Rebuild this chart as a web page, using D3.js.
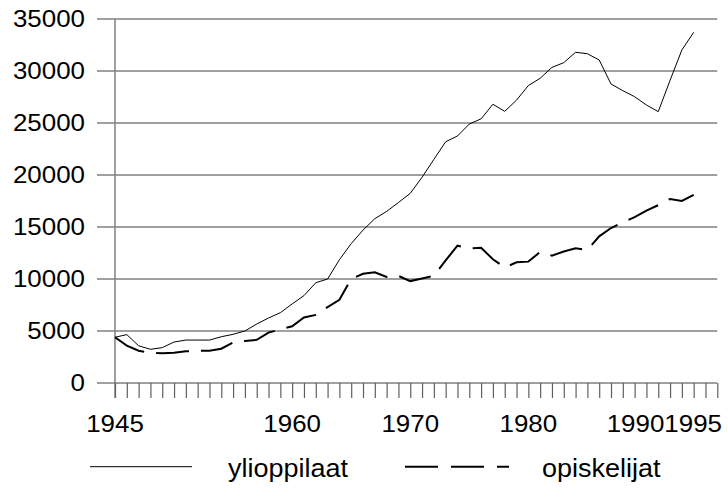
<!DOCTYPE html>
<html><head><meta charset="utf-8">
<script src="https://cdn.jsdelivr.net/npm/d3@7"></script>
<style>
html,body{margin:0;padding:0;background:#fff;}
svg{display:block;}
text{font-family:"Liberation Sans",Arial,sans-serif;fill:#000;}
</style></head>
<body>
<svg id="c" width="728" height="503"></svg>
<script>
const years = [1945,1946,1947,1948,1949,1950,1951,1952,1953,1954,
  1955,1956,1957,1958,1959,1960,1961,1962,1963,1964,
  1965,1966,1967,1968,1969,1970,1971,1972,1973,1974,
  1975,1976,1977,1978,1979,1980,1981,1982,1983,1984,
  1985,1986,1987,1988,1989,1990,1991,1992,1993,1994];
const ylioppilaat = [4400,4650,3580,3240,3400,3940,4130,4130,4130,4450,
  4680,5000,5670,6250,6760,7600,8400,9640,10000,11850,
  13400,14700,15800,16500,17350,18240,19780,21500,23200,23750,
  24900,25400,26800,26120,27200,28600,29300,30350,30800,31800,
  31660,31060,28750,28110,27530,26730,26090,29100,32020,33720];
const opiskelijat = [4400,3600,3100,2900,2850,2900,3050,3100,3100,3300,
  3900,4050,4150,4850,5150,5450,6300,6550,7300,8000,
  10000,10500,10650,10200,10300,9800,10050,10300,11800,13200,
  12950,13000,11900,11100,11600,11670,12600,12250,12650,12950,
  12800,14100,14900,15450,15950,16570,17100,17690,17500,18100];
const axisYears = [1945,1946,1947,1948,1949,1950,1951,1952,1953,1954,
  1955,1956,1957,1958,1959,1960,1961,1962,1963,1964,
  1965,1966,1967,1968,1969,1970,1971,1972,1973,1974,
  1975,1976,1977,1978,1979,1980,1981,1982,1983,1984,
  1985,1986,1987,1988,1989,1990,1991,1992,1993,1994,1995,1996];
const xTickLabels = [1945,1960,1970,1980,1990,1995];
const yTicks = [0,5000,10000,15000,20000,25000,30000,35000];
const seriesNames = ["ylioppilaat","opiskelijat"];

const svg = d3.select("#c");
const SX = 1.08;
const gridColor = "#808080";

const x = d3.scaleLinear().domain([1945,1996]).range([115,717.3]);
const y = d3.scaleLinear().domain([0,35000]).range([383,19]);

// gridlines
svg.append("g").selectAll("line").data(yTicks).join("line")
  .attr("x1",97).attr("x2",717.3)
  .attr("y1",d=>y(d)).attr("y2",d=>y(d))
  .attr("stroke",gridColor).attr("stroke-width",1.5);

// y axis line
svg.append("line").attr("x1",115).attr("x2",115).attr("y1",y(35000)).attr("y2",398)
  .attr("stroke",gridColor).attr("stroke-width",1.5);

// y labels
svg.append("g").selectAll("text").data(yTicks).join("text")
  .attr("text-anchor","end")
  .attr("transform",d=>`translate(85,${y(d)+8.3}) scale(${SX},1)`)
  .style("font-size","24px")
  .text(d=>d);

// x axis ticks via d3 axis
const xAxis = d3.axisBottom(x).tickValues(axisYears).tickSize(15).tickSizeOuter(0).tickFormat("");
const gx = svg.append("g").attr("transform","translate(0,383)").call(xAxis);
gx.select(".domain").remove();
gx.selectAll(".tick line").attr("stroke","#606060").attr("stroke-width",1.2);

// x labels with Excel-like overflow shift
const lbl = svg.append("g").selectAll("text").data(xTickLabels).join("text")
  .attr("text-anchor","middle")
  .style("font-size","24px")
  .text(d=>d);
const widths = [];
lbl.each(function(){ widths.push(this.getComputedTextLength()*SX); });
const pos = xTickLabels.map(d=>x(d));
let limit = 722;
for (let i = pos.length-1; i>=0; i--) {
  pos[i] = Math.min(pos[i], limit - widths[i]/2);
  limit = pos[i] - widths[i]/2;
}
lbl.attr("transform",(d,i)=>`translate(${pos[i]},431.7) scale(${SX},1)`);

// lines
const line = d3.line().x((d,i)=>x(years[i])).y(d=>y(d));
svg.append("path").datum(ylioppilaat).attr("d",line)
  .attr("fill","none").attr("stroke","#000").attr("stroke-width",1);
svg.append("path").datum(opiskelijat).attr("d",line)
  .attr("fill","none").attr("stroke","#000").attr("stroke-width",2)
  .attr("stroke-dasharray","33,12");

// legend
svg.append("line").attr("x1",90).attr("x2",192).attr("y1",466.7).attr("y2",466.7)
  .attr("stroke","#000").attr("stroke-width",1);
svg.append("text").attr("transform",`translate(228,477) scale(${SX},1)`)
  .style("font-size","25px").text(seriesNames[0]);
svg.append("line").attr("x1",405).attr("x2",509).attr("y1",466.7).attr("y2",466.7)
  .attr("stroke","#000").attr("stroke-width",2).attr("stroke-dasharray","33,13");
svg.append("text").attr("transform",`translate(542,477) scale(${SX},1)`)
  .style("font-size","25px").text(seriesNames[1]);
</script>
</body></html>
